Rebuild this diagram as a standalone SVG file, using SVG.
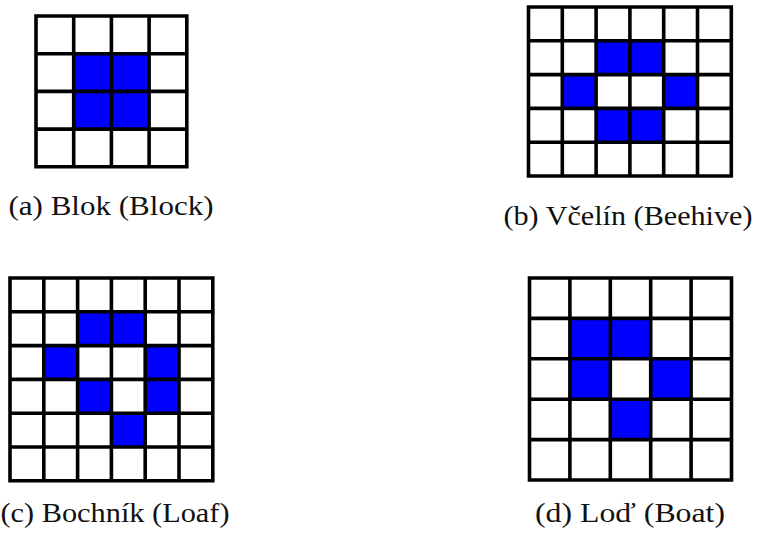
<svg xmlns="http://www.w3.org/2000/svg" width="759" height="536" viewBox="0 0 759 536">
  <style>
    .bg { fill: #ffffff; }
    .live { fill: #0000ff; }
    .grid { fill: none; stroke: #000000; stroke-width: 3.6; stroke-linecap: square; }
    .cap { font-family: 'Liberation Serif', 'Times New Roman', 'DejaVu Serif', serif; font-size: 28px; fill: #111111; text-anchor: middle; }
  </style>
  <rect width="759" height="536" fill="#ffffff"/>

  <!-- (a) Block: 4x4 board -->
  <g id="block">
    <rect class="bg" x="36" y="16" width="150.8" height="150.8"/>
    <rect class="live" x="73.7" y="53.7" width="75.4" height="75.4"/>
    <path class="grid" d="M36 16V166.8M73.7 16V166.8M111.4 16V166.8M149.1 16V166.8M186.8 16V166.8
                         M36 16H186.8M36 53.7H186.8M36 91.4H186.8M36 129.1H186.8M36 166.8H186.8"/>
    <text class="cap" font-family="Liberation Serif, serif" x="111" y="215" textLength="205" lengthAdjust="spacingAndGlyphs">(a) Blok (Block)</text>
  </g>

  <!-- (b) Beehive: 6x5 board -->
  <g id="beehive">
    <rect class="bg" x="528.5" y="7" width="202.8" height="169"/>
    <rect class="live" x="596.1" y="40.8" width="67.6" height="33.8"/>
    <rect class="live" x="562.3" y="74.6" width="33.8" height="33.8"/>
    <rect class="live" x="663.7" y="74.6" width="33.8" height="33.8"/>
    <rect class="live" x="596.1" y="108.4" width="67.6" height="33.8"/>
    <path class="grid" d="M528.5 7V176M562.3 7V176M596.1 7V176M629.9 7V176M663.7 7V176M697.5 7V176M731.3 7V176
                         M528.5 7H731.3M528.5 40.8H731.3M528.5 74.6H731.3M528.5 108.4H731.3M528.5 142.2H731.3M528.5 176H731.3"/>
    <text class="cap" font-family="Liberation Serif, serif" x="628" y="225" textLength="249" lengthAdjust="spacingAndGlyphs">(b) Včelín (Beehive)</text>
  </g>

  <!-- (c) Loaf: 6x6 board -->
  <g id="loaf">
    <rect class="bg" x="10" y="278" width="202.8" height="202.8"/>
    <rect class="live" x="77.6" y="311.8" width="67.6" height="33.8"/>
    <rect class="live" x="43.8" y="345.6" width="33.8" height="33.8"/>
    <rect class="live" x="145.2" y="345.6" width="33.8" height="33.8"/>
    <rect class="live" x="77.6" y="379.4" width="33.8" height="33.8"/>
    <rect class="live" x="145.2" y="379.4" width="33.8" height="33.8"/>
    <rect class="live" x="111.4" y="413.2" width="33.8" height="33.8"/>
    <path class="grid" d="M10 278V480.8M43.8 278V480.8M77.6 278V480.8M111.4 278V480.8M145.2 278V480.8M179 278V480.8M212.8 278V480.8
                         M10 278H212.8M10 311.8H212.8M10 345.6H212.8M10 379.4H212.8M10 413.2H212.8M10 447H212.8M10 480.8H212.8"/>
    <text class="cap" font-family="Liberation Serif, serif" x="115" y="522" textLength="229" lengthAdjust="spacingAndGlyphs">(c) Bochník (Loaf)</text>
  </g>

  <!-- (d) Boat: 5x5 board -->
  <g id="boat">
    <rect class="bg" x="529.5" y="278" width="202" height="202"/>
    <rect class="live" x="569.9" y="318.4" width="80.8" height="40.4"/>
    <rect class="live" x="569.9" y="358.8" width="40.4" height="40.4"/>
    <rect class="live" x="650.7" y="358.8" width="40.4" height="40.4"/>
    <rect class="live" x="610.3" y="399.2" width="40.4" height="40.4"/>
    <path class="grid" d="M529.5 278V480M569.9 278V480M610.3 278V480M650.7 278V480M691.1 278V480M731.5 278V480
                         M529.5 278H731.5M529.5 318.4H731.5M529.5 358.8H731.5M529.5 399.2H731.5M529.5 439.6H731.5M529.5 480H731.5"/>
    <text class="cap" font-family="Liberation Serif, serif" x="630" y="522" textLength="190" lengthAdjust="spacingAndGlyphs">(d) Loď (Boat)</text>
  </g>
</svg>
